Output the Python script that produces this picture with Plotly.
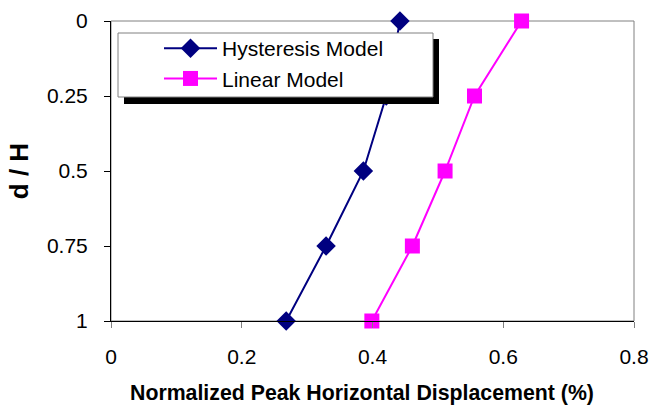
import plotly.graph_objects as go

# Depth ratio down the wall (d / H) and normalized peak horizontal displacement (%)
depth_ratio = [0, 0.25, 0.5, 0.75, 1]
hysteresis_disp = [0.442, 0.421, 0.386, 0.329, 0.268]
linear_disp = [0.628, 0.556, 0.511, 0.461, 0.399]

x_ticks = [0, 0.2, 0.4, 0.6, 0.8]
x_tick_text = ["0", "0.2", "0.4", "0.6", "0.8"]
y_ticks = [0, 0.25, 0.5, 0.75, 1]
y_tick_text = ["0", "0.25", "0.5", "0.75", "1"]

FONT = "Liberation Sans, Arial, sans-serif"
W, H = 649, 408
M_L, M_R, M_T, M_B = 111, 15, 21, 87
PW, PH = W - M_L - M_R, H - M_T - M_B


def px_x(p):
    return (p - M_L) / PW


def px_y(p):
    return 1 - (p - M_T) / PH


fig = go.Figure()
fig.add_trace(go.Scatter(
    x=hysteresis_disp, y=depth_ratio, mode="lines+markers", name="Hysteresis Model",
    line=dict(color="#000080", width=2),
    marker=dict(symbol="diamond", size=15, color="#000080"),
    cliponaxis=False,
))
fig.add_trace(go.Scatter(
    x=linear_disp, y=depth_ratio, mode="lines+markers", name="Linear Model",
    line=dict(color="#FF00FF", width=2),
    marker=dict(symbol="square", size=15, color="#FF00FF"),
    cliponaxis=False,
))

shapes = [
    # plot-area frame
    dict(type="rect", xref="paper", yref="paper", x0=0, x1=1, y0=0, y1=1,
         line=dict(color="#808080", width=1), fillcolor="rgba(0,0,0,0)", layer="below"),
    # legend drop shadow
    dict(type="rect", xref="paper", yref="paper",
         x0=px_x(124), x1=px_x(439), y0=px_y(104), y1=px_y(39),
         line=dict(width=0), fillcolor="black", layer="above"),
    # legend box
    dict(type="rect", xref="paper", yref="paper",
         x0=px_x(118), x1=px_x(433), y0=px_y(97), y1=px_y(33),
         line=dict(color="#808080", width=1), fillcolor="white", layer="above"),
]

annotations = [
    dict(text="<b>Normalized Peak Horizontal Displacement (%)</b>",
         xref="paper", yref="paper", x=px_x(361.5), y=px_y(393),
         xanchor="center", yanchor="middle", showarrow=False,
         font=dict(family=FONT, size=21.3, color="black")),
]

fig.update_layout(
    width=W, height=H,
    margin=dict(l=M_L, r=M_R, t=M_T, b=M_B, autoexpand=False),
    paper_bgcolor="white", plot_bgcolor="white",
    font=dict(family=FONT, size=21, color="black"),
    showlegend=True,
    legend=dict(
        x=px_x(159), y=px_y(28), xanchor="left", yanchor="top",
        bgcolor="rgba(0,0,0,0)", borderwidth=0,
        font=dict(family=FONT, size=21, color="black"),
        itemwidth=53, tracegroupgap=0,
    ),
    shapes=shapes,
    annotations=annotations,
    xaxis=dict(
        range=[0, 0.8], tickvals=x_ticks, ticktext=x_tick_text,
        showgrid=False, zeroline=False, automargin=False,
        showline=True, linecolor="black", linewidth=1,
        ticks="outside", ticklen=6, tickcolor="#808080",
        ticklabelstandoff=11,
    ),
    yaxis=dict(
        range=[1, 0], tickvals=y_ticks, ticktext=y_tick_text,
        showgrid=False, zeroline=False, automargin=False,
        showline=True, linecolor="black", linewidth=1,
        ticks="outside", ticklen=6, tickcolor="black",
        ticklabelstandoff=12,
        title=dict(text="<b>d / H</b>", font=dict(family=FONT, size=26), standoff=10),
    ),
)

fig.write_html("out.html")
